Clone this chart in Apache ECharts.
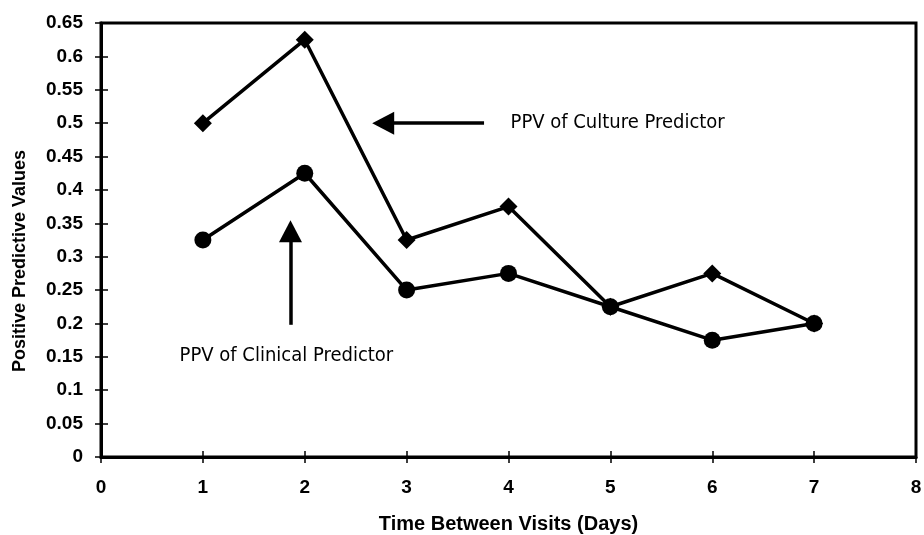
<!DOCTYPE html>
<html>
<head>
<meta charset="utf-8">
<script src="https://cdn.jsdelivr.net/npm/echarts@6/dist/echarts.min.js"></script>
<style>
    html, body { margin: 0; padding: 0; background: #fff; }
    #main { width: 924px; height: 535px; }
</style>
</head>
<body>
<div id="main"></div>
<script>
    // 数据
    var days = [1, 2, 3, 4, 5, 6, 7];
    var culturePpv = [0.5, 0.625, 0.325, 0.375, 0.225, 0.275, 0.2];
    var clinicalPpv = [0.325, 0.425, 0.25, 0.275, 0.225, 0.175, 0.2];
    var cultureLabel = 'PPV of Culture Predictor';
    var clinicalLabel = 'PPV of Clinical Predictor';

    var labelFont = {fontFamily: 'Liberation Sans', fontWeight: 'bold', fontSize: 19, color: '#000'};
    var noteFont = 'DejaVu Sans Condensed';
    var gridBox = {left: 101, right: 8, top: 23, bottom: 78, containLabel: false, outerBoundsMode: 'none'};

    function pairs(xs, ys) {
        var out = [];
        for (var i = 0; i < xs.length; i++) {
            out.push([xs[i], ys[i]]);
        }
        return out;
    }

    var myChart = echarts.init(document.getElementById('main'));
    var option = {
        animation: false,
        grid: [
            Object.assign({show: true, borderColor: '#000', borderWidth: 3}, gridBox),
            //第二个grid只用来画内侧刻度
            Object.assign({show: false}, gridBox)
        ],
        xAxis: [{
            gridIndex: 0,
            type: 'value', min: 0, max: 8, interval: 1,
            name: 'Time Between Visits (Days)', nameLocation: 'middle', nameGap: 57,
            nameTextStyle: {fontFamily: 'Liberation Sans', fontWeight: 'bold', fontSize: 20, color: '#000'},
            axisLine: {lineStyle: {color: '#000', width: 3}},
            axisTick: {show: true, length: 6, lineStyle: {color: '#000', width: 1.5}},
            axisLabel: Object.assign({margin: 21}, labelFont),
            splitLine: {show: false}
        }, {
            gridIndex: 1,
            type: 'value', min: 0, max: 8, interval: 1,
            axisLine: {show: true, lineStyle: {color: '#000', opacity: 0}},
            axisTick: {show: true, inside: true, length: 6, lineStyle: {color: '#000', width: 1.5}},
            axisLabel: {show: false}, splitLine: {show: false}
        }],
        yAxis: [{
            gridIndex: 0,
            type: 'value', min: 0, max: 0.65, interval: 0.05,
            name: 'Positive Predictive Values', nameLocation: 'middle', nameGap: 72,
            nameTextStyle: {fontFamily: 'Liberation Sans', fontWeight: 'bold', fontSize: 18, color: '#000', padding: [0, 42, 0, 0]},
            axisLine: {show: true, lineStyle: {color: '#000', width: 3}},
            axisTick: {show: true, length: 6, lineStyle: {color: '#000', width: 1.5}},
            axisLabel: Object.assign({margin: 18}, labelFont),
            splitLine: {show: false}
        }, {
            gridIndex: 1,
            type: 'value', min: 0, max: 0.65, interval: 0.05,
            axisLine: {show: true, lineStyle: {color: '#000', opacity: 0}},
            axisTick: {show: true, inside: true, length: 7, lineStyle: {color: '#000', width: 1.5}},
            axisLabel: {show: false}, splitLine: {show: false}
        }],
        series: [
            {
                name: cultureLabel,
                type: 'line',
                data: pairs(days, culturePpv),
                symbol: 'diamond',
                symbolSize: 18,
                itemStyle: {color: '#000'},
                lineStyle: {color: '#000', width: 3.5},
                z: 3,
                markLine: {
                    silent: true,
                    symbol: ['none', 'triangle'],
                    symbolSize: [23, 22],
                    label: {show: false},
                    lineStyle: {color: '#000', width: 3.5, type: 'solid'},
                    data: [
                        [{coord: [3.76, 0.5]}, {coord: [2.77, 0.5]}],
                        [{coord: [1.86, 0.198]}, {coord: [1.86, 0.338]}]
                    ]
                }
            },
            {
                name: clinicalLabel,
                type: 'line',
                data: pairs(days, clinicalPpv),
                symbol: 'circle',
                symbolSize: 17,
                itemStyle: {color: '#000'},
                lineStyle: {color: '#000', width: 3.5},
                z: 3
            }
        ]
    };
    myChart.setOption(option);

    // 注释文字，位置由数据坐标换算
    var p1 = myChart.convertToPixel({gridIndex: 0}, [4.02, 0.5]);
    var p2 = myChart.convertToPixel({gridIndex: 0}, [1.82, 0.152]);
    myChart.setOption({
        graphic: [
            {type: 'text', x: p1[0], y: p1[1], style: {text: cultureLabel, fontFamily: noteFont, fontSize: 20, fill: '#000', textVerticalAlign: 'middle', textAlign: 'left'}},
            {type: 'text', x: p2[0], y: p2[1], style: {text: clinicalLabel, fontFamily: noteFont, fontSize: 20, fill: '#000', textVerticalAlign: 'middle', textAlign: 'center'}}
        ]
    });
</script>
</body>
</html>
